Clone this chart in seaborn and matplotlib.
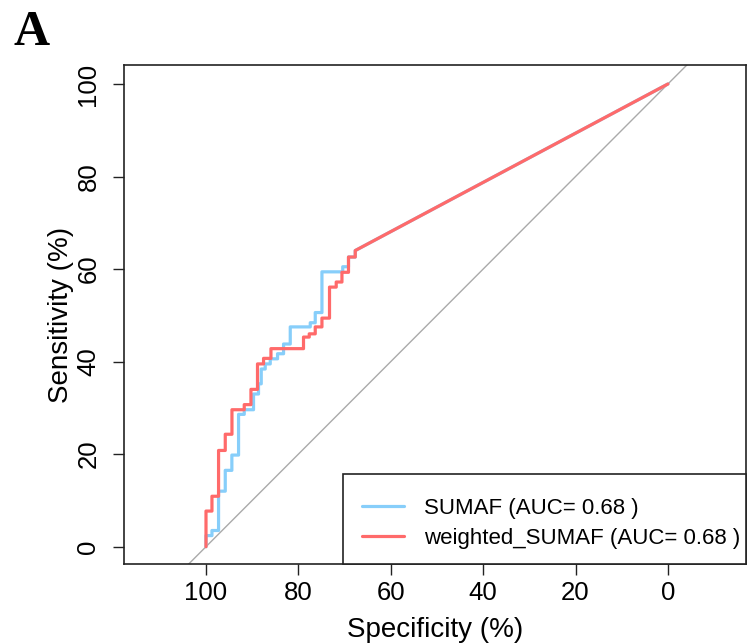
import matplotlib
matplotlib.use("Agg")
import matplotlib.pyplot as plt
import matplotlib.patches as mpatches
from matplotlib.lines import Line2D
import seaborn as sns
import pandas as pd

# ROC staircase steps: specificity where the curve rises, and sensitivity reached (%)
sumaf_spec = [100, 98.71, 97.28, 95.83, 94.4, 92.95, 91.72, 89.71, 88.63, 88.04,
              87.18, 86.09, 84.51, 83.21, 81.76, 77.43, 76.35, 74.90, 70.4, 69.15, 67.69, 0]
sumaf_sens = [2.4, 3.5, 12.0, 16.5, 19.8, 28.6, 29.6, 33.0, 35.2, 38.4,
              39.5, 40.6, 41.7, 43.8, 47.5, 48.4, 50.6, 59.4, 60.5, 62.6, 64.0, 100]

wsumaf_spec = [100, 98.71, 97.28, 95.83, 94.38, 91.72, 90.27, 88.85, 87.54, 85.94,
               78.89, 77.65, 76.35, 74.90, 73.26, 71.81, 70.57, 69.15, 67.69, 0]
wsumaf_sens = [7.7, 10.9, 20.8, 24.3, 29.6, 30.7, 34.0, 39.5, 40.7, 42.8,
               45.3, 46.0, 47.5, 49.4, 56.1, 57.2, 59.3, 62.6, 64.0, 100]

labels = ["SUMAF (AUC= 0.68 )", "weighted_SUMAF (AUC= 0.68 )"]
colors = ["#87CEFA", "#FF6A6A"]
x_ticks = [100, 80, 60, 40, 20, 0]
y_ticks = [0, 20, 40, 60, 80, 100]


def staircase(spec, sens):
    xs, ys = [100.0], [0.0]
    n = len(spec)
    for i in range(n):
        if i == n - 1:  # final tied segment drawn straight
            xs.append(spec[i]); ys.append(sens[i])
        else:
            xs.append(spec[i]); ys.append(ys[-1])
            xs.append(spec[i]); ys.append(sens[i])
    return xs, ys


rows = []
for lab, sp, se in [(labels[0], sumaf_spec, sumaf_sens), (labels[1], wsumaf_spec, wsumaf_sens)]:
    xs, ys = staircase(sp, se)
    for k, (a, b) in enumerate(zip(xs, ys)):
        rows.append({"curve": lab, "order": k, "spec": a, "sens": b})
df = pd.DataFrame(rows)

sns.set_theme(style="white")
plt.rcParams["font.family"] = ["Liberation Sans", "DejaVu Sans"]
for key in ["text.color", "axes.labelcolor", "xtick.color", "ytick.color"]:
    plt.rcParams[key] = "black"

fig = plt.figure(figsize=(7.47, 6.44), dpi=100)
ax = fig.add_axes([124 / 747, 1 - 564 / 644, (746 - 124) / 747, (564 - 65) / 644])

# chance diagonal
ax.plot([120, -20], [-20, 120], color="#AAAAAA", lw=1.0, zorder=1)

sns.lineplot(data=df, x="spec", y="sens", hue="curve", units="curve", estimator=None,
             sort=False, palette=dict(zip(labels, colors)), lw=2.3, ax=ax, legend=False)
ax.lines[-1].set_zorder(3)

ax.set_xlim(117.75, -16.9)
ax.set_ylim(-3.74, 104.1)
ax.set_xticks(x_ticks)
ax.set_yticks(y_ticks)
ax.set_xticklabels([str(t) for t in x_ticks], fontsize=18.5)
ax.set_yticklabels([str(t) for t in y_ticks], fontsize=18.5, rotation=90, va="center")
ax.tick_params(axis="both", direction="out", length=8, width=1.0, color="#222222",
               bottom=True, left=True)
ax.tick_params(axis="x", pad=4)
ax.tick_params(axis="y", pad=9)
ax.set_xlabel("Specificity (%)", fontsize=20, labelpad=9)
ax.set_ylabel("Sensitivity (%)", fontsize=20, labelpad=2)
for s in ax.spines.values():
    s.set_visible(True)
    s.set_color("#222222")
    s.set_linewidth(1.2)

# legend frame (R style, hugging the bottom-right corner)
frame = mpatches.Rectangle(((342.7 - 124) / 622, 0), 1 - (342.7 - 124) / 622, (564 - 474.3) / 499,
                           transform=ax.transAxes, facecolor="white", edgecolor="#222222",
                           lw=1.2, zorder=4, clip_on=False)
ax.add_patch(frame)
handles = [Line2D([], [], color=c, lw=2.3) for c in colors]
leg = ax.legend(handles, labels, loc="center left",
                bbox_to_anchor=((362 - 124) / 622, (564 - 523.5) / 499), borderaxespad=0,
                borderpad=0, fontsize=16, frameon=False, handlelength=1.9,
                handletextpad=0.9, labelspacing=0.42)
leg.set_zorder(5)

fig.text(14 / 747, 1 - 45 / 644, "A", fontsize=36, fontweight="bold",
         fontfamily="Liberation Serif", va="baseline", ha="left")

fig.savefig("out.png", dpi=100)
